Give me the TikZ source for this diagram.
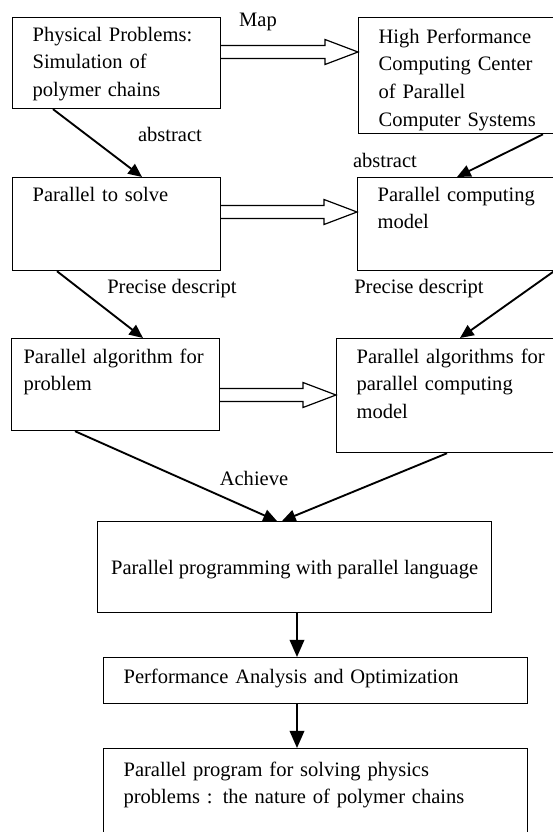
\documentclass[tikz,border=0pt]{standalone}
\usepackage{fontspec}
\setmainfont{Liberation Serif}
\usetikzlibrary{positioning}
\usetikzlibrary{arrows.meta}
\usetikzlibrary{calc}

\tikzset{
  stage/.style={draw, line width=0.7pt, anchor=north west, align=left,
    inner ysep=0pt, inner xsep=11.7pt, font=\fontsize{12}{16.2}\selectfont},
  tag/.style={inner sep=0pt, font=\fontsize{12}{16.2}\selectfont},
  flow/.style={line width=1.1pt, -{Triangle[length=8pt,width=7pt]}},
  drop/.style={line width=1.1pt, -{Triangle[length=10pt,width=8.5pt]}},
  hollow/.style={line width=0.7pt, line join=miter},
}

% wide open arrow between two boxes
\newcommand{\widearrow}[2]{%
  \draw[hollow] ($(#1)+(0,-6.5)$) -- ($(#2)+(-33,-6.5)$) -- ($(#2)+(-33,-12.5)$)
    -- (#2) -- ($(#2)+(-33,12.5)$) -- ($(#2)+(-33,6.5)$) -- ($(#1)+(0,6.5)$);}

\begin{document}
\begin{tikzpicture}[x=0.5848pt, y=-0.5848pt]
    \useasboundingbox (0,0) rectangle (553,832);
    \clip (0,0) rectangle (553,832);

    % left column
    \node[stage, text width=98.2pt, text height=13.8pt, text depth=39.4pt] (phys) at (12,17)
        {Physical Problems:\\Simulation of\\polymer chains};
    \node[stage, text width=98.2pt, text height=13.8pt, text depth=40.6pt] (solve) at (12,177)
        {Parallel to solve};
    \node[stage, inner xsep=7pt, text width=107.6pt, text height=14.4pt, text depth=39.4pt] (alg) at (11,338)
        {Parallel algorithm for\\problem};

    % right column
    \node[stage, text width=117pt, text height=15pt, text depth=52.9pt] (hpc) at (358,17)
        {High Performance\\Computing Center\\of Parallel\\Computer Systems};
    \node[stage, text width=117pt, text height=13.8pt, text depth=40.6pt] (model) at (357,177)
        {Parallel computing\\model};
    \node[stage, text width=130pt, text height=14.4pt, text depth=52.3pt] (algs) at (336,338)
        {Parallel algorithms for\\parallel computing\\model};

    % lower chain
    \node[stage, inner xsep=5pt, minimum width=230.4pt, text height=30.8pt, text depth=22.5pt] (prog) at (97,521)
        {Parallel programming with parallel language};
    \node[stage, text width=224.6pt, text height=15pt, text depth=11.9pt] (perf) at (103,657)
        {Performance Analysis and Optimization};
    \node[stage, text width=224.6pt, text height=16.1pt, text depth=70pt] (final) at (103,748)
        {Parallel program for solving physics\\problems : the nature of polymer chains};

    % labels
    \node[tag] (map) at (258,22) {Map};
    \node[tag] (abs1) at (170,134) {abstract};
    \node[tag] (abs2) at (385,160) {abstract};
    \node[tag] (prec1) at (172,289) {Precise descript};
    \node[tag] (prec2) at (419,289) {Precise descript};
    \node[tag] (achieve) at (254,478) {Achieve};

    % wide arrows
    \coordinate (m1) at ($(phys.north east)+(0,35)$);
    \coordinate (m2) at ($(solve.north east)+(0,35)$);
    \coordinate (m3) at ($(alg.north east)+(0,57)$);
    \widearrow{m1}{m1 -| hpc.west}
    \widearrow{m2}{m2 -| model.west}
    \widearrow{m3}{m3 -| algs.west}

    % arrows
    \draw[flow] ($(phys.south west)+(41,0)$) -- ($(solve.north west)+(130,0)$);
    \draw[flow] ($(hpc.south west)+(185,0)$) -- ($(model.north west)+(100,0)$);
    \draw[flow] ($(solve.south west)+(45,0)$) -- ($(alg.north west)+(132,0)$);
    \draw[flow] ($(model.south west)+(197,0)$) -- ($(algs.north west)+(124,0)$);
    \draw[flow] ($(alg.south west)+(64,0)$) -- ($(prog.north west)+(180,0)$);
    \draw[flow] ($(algs.south west)+(111,0)$) -- ($(prog.north west)+(185,0)$);
    \draw[drop] ($(prog.south west)+(200,0)$) -- ($(perf.north west)+(194,0)$);
    \draw[drop] ($(perf.south west)+(194,0)$) -- ($(final.north west)+(194,0)$);

\end{tikzpicture}
\end{document}
